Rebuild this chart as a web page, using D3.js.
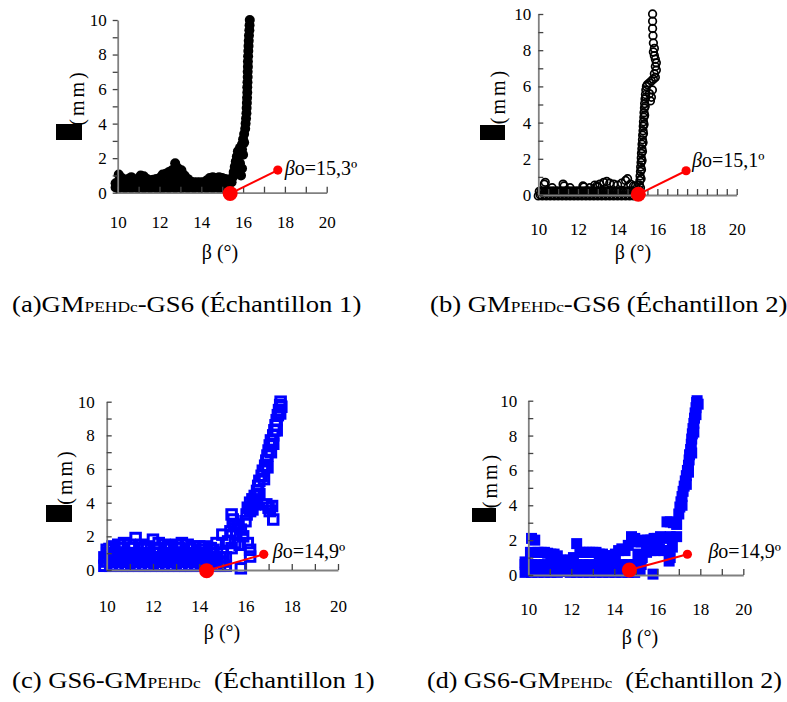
<!DOCTYPE html>
<html><head><meta charset="utf-8">
<script src="https://cdn.jsdelivr.net/npm/d3@7"></script>
<style>body{margin:0;background:#fff} svg{display:block}</style>
</head><body><svg id="c" width="787" height="702"></svg>
<script>
// ---------- data ----------
const xTickValues = [10, 12, 14, 16, 18, 20];
const yTickValues = [0, 2, 4, 6, 8, 10];
const xAxisTitle = "β (°)";
const yAxisTitle = "(mm)";

// (a) GM-GS6 sample 1 : filled black circles
const pointsA = [
  [9.9,0.3],[10.05,0.25],[10.2,0.3],[10.35,0.25],[10.5,0.3],[10.65,0.25],[10.8,0.3],[10.95,0.25],[11.1,0.3],[11.25,0.25],
  [11.4,0.3],[11.55,0.25],[11.7,0.3],[11.85,0.25],[12.0,0.3],[12.15,0.25],[12.3,0.3],[12.45,0.25],[12.6,0.3],[12.75,0.25],
  [12.9,0.3],[13.05,0.25],[13.2,0.3],[13.35,0.25],[13.5,0.3],[13.65,0.25],[13.8,0.3],[13.95,0.25],[14.1,0.3],[14.25,0.25],
  [14.4,0.3],[14.55,0.25],[14.7,0.3],[14.85,0.25],[15.0,0.3],[15.15,0.25],[15.3,0.3],
  [10.0,0.6],[10.3,0.6],[10.6,0.6],[10.9,0.6],[11.2,0.6],[11.5,0.6],[11.8,0.6],[12.1,0.6],[12.4,0.6],[12.7,0.6],
  [13.0,0.6],[13.3,0.6],[13.6,0.55],[13.9,0.55],[14.2,0.6],[14.5,0.6],[14.8,0.6],[15.1,0.6],
  [9.9,0.55],[10.05,1.05],[10.2,0.85],[10.35,0.7],[10.5,0.8],[10.65,0.9],[10.8,0.75],[10.95,0.8],[11.1,1.0],[11.25,0.95],
  [11.4,0.8],[11.55,0.7],[11.7,0.75],[11.85,0.8],[12.0,0.85],[12.15,1.05],[12.3,1.1],[12.45,1.2],[12.6,1.3],[12.75,1.7],
  [12.9,1.4],[13.05,1.3],[13.2,1.0],[13.35,0.8],[13.5,0.65],[13.65,0.6],[13.8,0.6],[13.95,0.6],[14.1,0.6],[14.25,0.7],
  [14.4,0.85],[14.55,0.9],[14.7,0.85],[14.85,0.9],[15.0,0.85],[15.15,0.8],[15.3,0.7],
  [12.7,1.2],[12.85,1.0],[12.6,0.95],[13.0,0.95],
  [15.45,0.6],[15.5,0.9],[15.55,1.2],[15.6,1.5],[15.65,1.8],[15.7,2.1],[15.75,2.4],[15.85,2.6],[15.95,2.8],[16.0,3.1],
  [16.05,3.4],[16.1,3.7],[16.12,4.0],[16.14,4.3],[16.16,4.6],[16.17,4.9],[16.18,5.2],[16.19,5.5],[16.2,5.8],[16.2,6.1],
  [16.21,6.4],[16.22,6.7],[16.22,7.0],[16.23,7.3],[16.23,7.6],[16.24,7.9],[16.25,8.2],[16.26,8.5],[16.27,8.8],[16.28,9.1],
  [16.3,9.4],[16.31,9.7],[16.32,10.0],
  [15.8,1.2],[15.9,1.0],[15.95,1.4],[15.85,1.7],[16.0,2.2],[15.95,2.5],[16.05,2.9]
];
// (b) GM-GS6 sample 2 : open black circles
const pointsB = [
  [10.0,-0.05],[10.1,0.0],[10.2,-0.05],[10.3,0.0],[10.4,-0.05],[10.5,0.0],[10.6,-0.05],[10.7,0.0],[10.8,-0.05],[10.9,0.0],
  [11.0,-0.05],[11.1,0.0],[11.2,-0.05],[11.3,0.0],[11.4,-0.05],[11.5,0.0],[11.6,-0.05],[11.7,0.0],[11.8,-0.05],[11.9,0.0],
  [12.0,-0.05],[12.1,0.0],[12.2,-0.05],[12.3,0.0],[12.4,-0.05],[12.5,0.0],[12.6,-0.05],[12.7,0.0],[12.8,-0.05],[12.9,0.0],
  [13.0,-0.05],[13.1,0.0],[13.2,-0.05],[13.3,0.0],[13.4,-0.05],[13.5,0.0],[13.6,-0.05],[13.7,0.0],[13.8,-0.05],[13.9,0.0],
  [14.0,-0.05],[14.1,0.0],[14.2,-0.05],[14.3,0.0],[14.4,-0.05],[14.5,0.0],[14.6,-0.05],[14.7,0.0],[14.8,-0.05],[14.9,0.0],[15.0,-0.05],
  [10.05,0.2],[10.15,0.22],[10.25,0.2],[10.35,0.22],[10.45,0.2],[10.55,0.22],[10.65,0.2],[10.75,0.22],[10.85,0.2],[10.95,0.22],
  [11.05,0.2],[11.15,0.22],[11.25,0.2],[11.35,0.22],[11.45,0.2],[11.55,0.22],[11.65,0.2],[11.75,0.22],[11.85,0.2],[11.95,0.22],
  [12.05,0.2],[12.15,0.22],[12.25,0.2],[12.35,0.22],[12.45,0.2],[12.55,0.22],[12.65,0.2],[12.75,0.22],[12.85,0.2],[12.95,0.22],
  [13.05,0.2],[13.15,0.22],[13.25,0.2],[13.35,0.22],[13.45,0.2],[13.55,0.22],[13.65,0.2],[13.75,0.22],[13.85,0.2],[13.95,0.22],
  [14.05,0.2],[14.15,0.22],[14.25,0.2],[14.35,0.22],[14.45,0.2],[14.55,0.22],[14.65,0.2],[14.75,0.22],[14.85,0.2],[14.95,0.22],
  [10.3,0.6],[10.35,0.7],[11.25,0.6],[11.3,0.5],[12.25,0.5],[12.3,0.45],[12.85,0.55],[12.95,0.5],[13.1,0.6],[13.3,0.7],
  [13.45,0.75],[13.6,0.65],[13.8,0.6],[14.0,0.55],[14.2,0.65],[14.4,0.8],[14.5,0.9],[14.65,0.6],[14.8,0.5],[12.6,0.4],
  [13.0,0.45],[11.6,0.4],[10.7,0.4],[14.9,0.5],
  [15.08,0.3],[15.1,0.55],[15.12,0.8],[15.13,1.05],[15.15,1.3],[15.16,1.55],[15.18,1.8],[15.19,2.05],[15.2,2.3],[15.22,2.55],
  [15.23,2.8],[15.25,3.05],[15.26,3.3],[15.28,3.55],[15.29,3.8],[15.3,4.05],[15.32,4.3],[15.33,4.55],[15.35,4.8],[15.36,5.05],
  [15.38,5.3],[15.4,5.55],[15.42,5.8],[15.45,6.0],
  [15.15,0.4],[15.18,0.9],[15.2,1.4],[15.23,1.9],[15.25,2.4],[15.28,2.9],[15.3,3.4],[15.33,3.9],[15.36,4.4],[15.39,4.9],[15.42,5.4],
  [15.5,6.1],[15.6,6.2],[15.7,6.3],[15.8,6.4],[15.9,6.5],[15.65,5.2],[15.7,5.4],[15.6,5.6],[15.75,5.8],
  [15.85,6.7],[15.95,6.9],[15.9,7.1],[15.95,7.3],[15.9,7.5],[15.85,7.7],[15.8,7.9],[15.85,8.1],[15.8,8.4],[15.78,8.8],
  [15.76,9.2],[15.76,9.6],[15.76,10.0]
];
// (c) GS6-GM sample 1 : open blue squares
const pointsC = [
  [9.9,0.25],[10.15,0.25],[10.4,0.25],[10.65,0.25],[10.9,0.25],[11.15,0.25],[11.4,0.25],[11.65,0.25],[11.9,0.25],[12.15,0.25],[12.4,0.25],
  [12.65,0.25],[12.9,0.25],[13.15,0.25],[13.4,0.25],[13.65,0.25],[13.9,0.25],[14.15,0.25],[14.4,0.25],[14.65,0.25],[14.9,0.25],[15.15,0.25],
  [10.02,0.5],[10.27,0.5],[10.52,0.5],[10.77,0.5],[11.02,0.5],[11.27,0.5],[11.52,0.5],[11.77,0.5],[12.02,0.5],[12.27,0.5],[12.52,0.5],
  [12.77,0.5],[13.02,0.5],[13.27,0.5],[13.52,0.5],[13.77,0.5],[14.02,0.5],[14.27,0.5],[14.52,0.5],[14.77,0.5],[15.02,0.5],
  [9.9,0.75],[10.15,0.75],[10.4,0.75],[10.65,0.75],[10.9,0.75],[11.15,0.75],[11.4,0.75],[11.65,0.75],[11.9,0.75],[12.15,0.75],[12.4,0.75],
  [12.65,0.75],[12.9,0.75],[13.15,0.75],[13.4,0.75],[13.65,0.75],[13.9,0.75],[14.15,0.75],[14.4,0.75],[14.65,0.75],[14.9,0.75],[15.15,0.75],
  [10.02,1.0],[10.27,1.0],[10.52,1.0],[10.77,1.0],[11.02,1.0],[11.27,1.0],[11.52,1.0],[11.77,1.0],[12.02,1.0],[12.27,1.0],[12.52,1.0],
  [12.77,1.0],[13.02,1.0],[13.27,1.0],[13.52,1.0],[13.77,1.0],[14.02,1.0],[14.27,1.0],[14.52,1.0],[14.77,1.0],[15.02,1.0],
  [10.0,1.2],[10.25,1.4],[10.5,1.5],[10.75,1.6],[11.0,1.5],[11.25,1.9],[11.5,1.5],[11.75,1.4],[12.0,1.8],[12.25,1.6],[12.5,1.5],
  [12.75,1.4],[13.0,1.5],[13.25,1.6],[13.5,1.5],[13.75,1.4],[14.0,1.4],[14.25,1.4],[14.5,1.3],[14.75,1.6],[15.0,2.1],[15.25,1.7],
  [10.12,1.25],[10.62,1.3],[11.12,1.3],[11.62,1.25],[12.12,1.3],[12.62,1.25],[13.12,1.3],[13.62,1.25],[14.12,1.2],[14.62,1.2],
  [15.4,3.3],[15.45,3.0],[15.5,2.6],[15.35,2.3],[15.6,2.2],[15.7,2.7],[15.8,2.4],[15.9,2.0],[15.55,1.6],[15.75,1.5],[15.4,1.3],
  [15.8,0.1],[16.2,1.2],[16.2,0.8],[16.1,1.6],
  [16.0,2.9],[16.05,3.3],[16.1,3.7],[16.2,4.0],[16.3,4.2],[16.4,4.4],[16.5,4.7],[16.55,5.0],[16.6,5.3],[16.7,5.6],
  [16.75,5.9],[16.85,6.2],[16.9,6.5],[16.95,6.8],[17.0,7.1],[17.05,7.4],[17.1,7.7],[17.2,8.0],[17.25,8.3],[17.3,8.6],
  [17.35,8.9],[17.4,9.2],[17.45,9.5],[17.5,9.8],[17.52,10.0],
  [16.2,3.5],[16.4,3.9],[16.6,4.5],[16.8,5.4],[16.95,6.1],[17.1,7.0],[17.2,7.5],[17.35,8.3],[17.5,9.3],[17.55,9.7],[16.3,3.6],[16.5,4.1],
  [17.0,3.7],[17.05,3.5],[17.2,3.0],[16.9,3.9],[17.15,3.8]
];
// (d) GS6-GM sample 2 : filled blue squares
const pointsD = [
  [9.85,0.15],[10.15,0.15],[10.45,0.15],[10.75,0.15],[11.05,0.15],[11.35,0.15],[11.65,0.2],[11.95,0.15],[12.25,0.15],[12.55,0.15],
  [12.85,0.15],[13.15,0.15],[13.45,0.15],[13.75,0.15],[14.05,0.15],[14.35,0.15],[14.65,0.15],[14.95,0.15],
  [9.85,0.6],[10.15,0.6],[10.45,0.6],[10.75,0.6],[11.05,0.6],[11.35,0.6],[11.65,0.6],[11.95,0.6],[12.25,0.6],[12.55,0.6],
  [12.85,0.6],[13.15,0.6],[13.45,0.6],[13.75,0.6],[14.05,0.6],[14.35,0.6],[14.65,0.6],[14.95,0.6],[15.25,0.6],
  [9.85,0.75],[10.1,1.3],[10.15,2.1],[10.3,2.0],[10.45,1.3],[10.6,1.3],[10.75,1.3],[10.9,1.25],[11.05,1.2],[11.2,1.2],
  [11.35,1.1],[11.5,0.85],[11.65,0.85],[11.8,0.85],[11.95,0.85],[12.1,1.0],[12.25,1.8],[12.4,1.3],[12.55,1.3],[12.7,1.3],
  [12.85,1.3],[13.0,1.3],[13.15,1.3],[13.3,1.2],[13.45,1.2],[13.6,1.1],[13.75,1.1],[13.9,1.1],[14.05,1.2],[14.2,1.4],
  [14.35,1.5],[14.5,1.4],[14.65,1.7],[14.8,2.2],[14.95,2.1],[15.1,1.9],[15.25,1.9],[15.4,2.0],[15.55,2.0],[15.7,2.0],
  [15.85,2.1],[16.0,2.1],[16.15,2.2],[16.3,2.1],[16.45,3.05],[16.6,3.05],[16.75,3.0],[16.9,2.9],
  [15.1,1.2],[15.3,1.0],[15.5,1.3],[15.7,1.4],[15.9,1.4],[16.1,1.5],[16.3,1.4],[16.5,1.4],[16.7,1.6],[16.9,2.2],
  [16.6,2.2],[16.55,0.8],[16.6,1.0],[15.8,0.05],[15.1,0.6],[15.2,0.3],
  [17.0,3.5],[17.05,3.9],[17.1,4.2],[17.15,4.5],[17.2,4.8],[17.25,5.1],[17.3,5.4],[17.35,5.7],[17.4,6.0],[17.45,6.3],
  [17.48,6.6],[17.5,6.9],[17.55,7.2],[17.58,7.5],[17.6,7.8],[17.63,8.1],[17.66,8.4],[17.7,8.7],[17.73,9.0],[17.76,9.3],
  [17.8,9.6],[17.83,9.9],[17.85,10.0],
  [17.15,4.0],[17.35,5.2],[17.45,5.9],[17.6,7.0],[17.7,8.2],[17.8,9.2],[17.9,9.8]
];

// beta0 annotations: big dot on the curve, small dot carrying the label
const beta0Big   = [[15.38,-0.05],[15.04,0.04],[14.32,-0.04],[14.7,0.29]];
const beta0Small = [[17.66,1.31],[17.45,1.34],[16.79,0.93],[17.4,1.19]];
const beta0Labels = ["15,3º","15,1º","14,9º","14,9º"];

const captionMain = ["(a)GM","(b) GM","(c) GS6-GM","(d) GS6-GM"];
const captionSub  = ["PEHDc","PEHDc","PEHDc","PEHDc"];
const captionRest = ["-GS6 (Échantillon 1)","-GS6 (Échantillon 2)","\u00a0\u00a0(Échantillon 1)","\u00a0\u00a0(Échantillon 2)"];

// ---------- layout ----------
const panels = [
  {pts:pointsA, marker:"circleFill", color:"#000", x0:117.7, x1:326.7, yT:20,    yB:192.7, minor:1,   labY:35.5, yGap:11, yIn:false, bx:220, by:259, mmx:77, mmy:97.5, box:[56,124,26,16], tdx:7,  tdy:5,  capx:12,  capy:312, capS:1.16},
  {pts:pointsB, marker:"circleOpen", color:"#000", x0:538.3, x1:736.7, yT:14,    yB:195,   minor:0.5, labY:40,   yGap:7,  yIn:true, bx:633, by:259, mmx:498, mmy:96, box:[480,125,25,15], tdx:6, tdy:-4, capx:430, capy:312, capS:1.16},
  {pts:pointsC, marker:"squareOpen", color:"#0000ff", x0:106.7, x1:338, yT:401.7, yB:570,  minor:1,   labY:42,   yGap:12, yIn:true, bx:222, by:639, mmx:65, mmy:476.5, box:[46,505,26,17], tdx:9, tdy:4, capx:12, capy:688, capS:1.16},
  {pts:pointsD, marker:"squareFill", color:"#0000ff", x0:528.3, x1:743.3, yT:400.7, yB:575, minor:1,   labY:40,   yGap:11, yIn:true, bx:640, by:644, mmx:490, mmy:480, box:[472,508,24,14], tdx:21, tdy:4, capx:427, capy:688, capS:1.13}
];

const svg = d3.select("#c");
const serif = "'Liberation Serif','Times New Roman',serif";
const axisColor = "#808080";

panels.forEach((p, i) => {
  const x = d3.scaleLinear().domain([10, 20]).range([p.x0, p.x1]);
  const y = d3.scaleLinear().domain([0, 10]).range([p.yB, p.yT]);
  const g = svg.append("g");

  // data
  const dg = g.append("g");
  if (p.marker.startsWith("circle")) {
    const fill = p.marker === "circleFill";
    dg.selectAll("circle").data(p.pts).join("circle")
      .attr("cx", d => x(d[0])).attr("cy", d => y(d[1]))
      .attr("r", fill ? 5 : 3.8)
      .attr("fill", fill ? p.color : "none")
      .attr("stroke", p.color).attr("stroke-width", fill ? 0 : 1.7);
  } else {
    const fill = p.marker === "squareFill";
    const s = fill ? 11 : 9.5;
    dg.selectAll("rect").data(p.pts).join("rect")
      .attr("x", d => x(d[0]) - s/2).attr("y", d => y(d[1]) - s/2)
      .attr("width", s).attr("height", s)
      .attr("fill", fill ? p.color : "none")
      .attr("stroke", p.color).attr("stroke-width", fill ? 0 : 3);
  }

  // axes
  const minorVals = d3.range(10, 20 + 1e-9, p.minor).map(v => +v.toFixed(2));
  const xa = g.append("g").attr("transform", `translate(0,${p.yB})`)
    .call(d3.axisBottom(x).tickValues(minorVals).tickSize(-6).tickSizeOuter(0)
      .tickFormat(d => xTickValues.includes(d) ? d : ""));
  xa.selectAll("text").attr("dy", null).attr("y", p.labY);
  const ya = g.append("g").attr("transform", `translate(${p.x0},0)`)
    .call(d3.axisLeft(y).tickValues(d3.range(0, 11)).tickSize(p.yIn ? -5 : 5).tickSizeOuter(0)
      .tickPadding(p.yIn ? p.yGap : p.yGap - 5)
      .tickFormat(d => yTickValues.includes(d) ? d : ""));
  [xa, ya].forEach(a => {
    a.select(".domain").attr("stroke", axisColor).attr("stroke-width", 1.8);
    a.selectAll(".tick line").attr("stroke", "#444").attr("stroke-width", 1.3);
    a.selectAll("text").attr("fill", "#000").style("font-family", serif).style("font-size", "17px");
  });

  // axis titles
  g.append("text").attr("x", p.bx).attr("y", p.by).attr("text-anchor", "middle")
    .style("font-family", serif).style("font-size", "20px").text(xAxisTitle);
  g.append("text").attr("transform", `translate(${p.mmx},${p.mmy}) rotate(-90)`)
    .attr("text-anchor", "middle").attr("dy", "0.35em")
    .style("font-family", serif).style("font-size", "20px").style("letter-spacing", "3px").text(yAxisTitle);
  g.append("rect").attr("x", p.box[0]).attr("y", p.box[1]).attr("width", p.box[2]).attr("height", p.box[3]).attr("fill", "#000");

  // annotation
  const b = beta0Big[i], s = beta0Small[i];
  g.append("line").attr("x1", x(b[0])).attr("y1", y(b[1])).attr("x2", x(s[0])).attr("y2", y(s[1]))
    .attr("stroke", "#ff0000").attr("stroke-width", 2);
  g.append("circle").attr("cx", x(b[0])).attr("cy", y(b[1])).attr("r", 7.5).attr("fill", "#ff0000");
  g.append("circle").attr("cx", x(s[0])).attr("cy", y(s[1])).attr("r", 4.6).attr("fill", "#ff0000");
  const t = g.append("text").attr("x", x(s[0]) + p.tdx).attr("y", y(s[1]) + p.tdy)
    .style("font-family", serif).style("font-size", "20px");
  t.append("tspan").style("font-style", "italic").text("β");
  t.append("tspan").text("o=" + beta0Labels[i]);

  // caption
  const c = svg.append("text").attr("transform", `translate(${p.capx},${p.capy}) scale(${p.capS},1)`)
    .style("font-family", serif).style("font-size", "23px").attr("xml:space", "preserve");
  c.append("tspan").text(captionMain[i]);
  c.append("tspan").style("font-size", "15px").text(captionSub[i]);
  c.append("tspan").text(captionRest[i]);
});
</script></body></html>
